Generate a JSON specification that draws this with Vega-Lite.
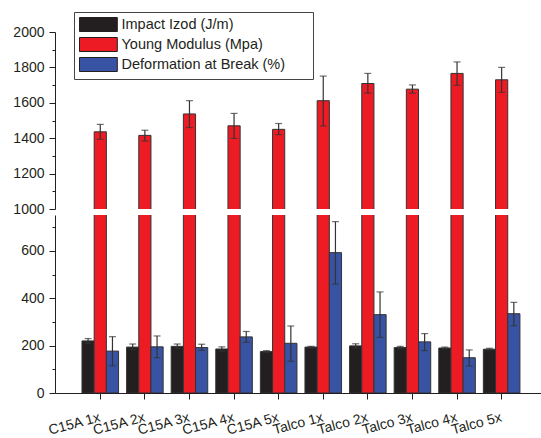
{
  "$schema": "https://vega.github.io/schema/vega-lite/v6.json",
  "padding": {"left": 12, "top": 11, "right": 0, "bottom": 0},
  "bounds": "flush",
  "spacing": 6,
  "config": {
    "font": "Liberation Sans",
    "view": {"stroke": null},
    "axis": {"domainColor": "#231f20", "tickColor": "#231f20", "labelColor": "#231f20", "labelFontSize": 14, "grid": false, "title": null, "labelOverlap": false, "labelBound": false}
  },
  "datasets": {
    "d": [
      {"sample": "C15A 1x", "prop": "Impact Izod (J/m)", "value": 220, "lo": 210, "hi": 230},
      {"sample": "C15A 1x", "prop": "Young Modulus (Mpa)", "value": 1436, "lo": 1394, "hi": 1478},
      {"sample": "C15A 1x", "prop": "Deformation at Break (%)", "value": 177, "lo": 115, "hi": 238},
      {"sample": "C15A 2x", "prop": "Impact Izod (J/m)", "value": 194, "lo": 182, "hi": 207},
      {"sample": "C15A 2x", "prop": "Young Modulus (Mpa)", "value": 1416, "lo": 1384, "hi": 1445},
      {"sample": "C15A 2x", "prop": "Deformation at Break (%)", "value": 195, "lo": 149, "hi": 241},
      {"sample": "C15A 3x", "prop": "Impact Izod (J/m)", "value": 197, "lo": 188, "hi": 207},
      {"sample": "C15A 3x", "prop": "Young Modulus (Mpa)", "value": 1537, "lo": 1460, "hi": 1612},
      {"sample": "C15A 3x", "prop": "Deformation at Break (%)", "value": 192, "lo": 180, "hi": 206},
      {"sample": "C15A 4x", "prop": "Impact Izod (J/m)", "value": 186, "lo": 177, "hi": 195},
      {"sample": "C15A 4x", "prop": "Young Modulus (Mpa)", "value": 1470, "lo": 1399, "hi": 1540},
      {"sample": "C15A 4x", "prop": "Deformation at Break (%)", "value": 237, "lo": 214, "hi": 260},
      {"sample": "C15A 5x", "prop": "Impact Izod (J/m)", "value": 175, "lo": 171, "hi": 179},
      {"sample": "C15A 5x", "prop": "Young Modulus (Mpa)", "value": 1450, "lo": 1420, "hi": 1483},
      {"sample": "C15A 5x", "prop": "Deformation at Break (%)", "value": 210, "lo": 134, "hi": 283},
      {"sample": "Talco 1x", "prop": "Impact Izod (J/m)", "value": 194, "lo": 191, "hi": 197},
      {"sample": "Talco 1x", "prop": "Young Modulus (Mpa)", "value": 1612, "lo": 1469, "hi": 1751},
      {"sample": "Talco 1x", "prop": "Deformation at Break (%)", "value": 593, "lo": 460, "hi": 724},
      {"sample": "Talco 2x", "prop": "Impact Izod (J/m)", "value": 199, "lo": 190, "hi": 208},
      {"sample": "Talco 2x", "prop": "Young Modulus (Mpa)", "value": 1709, "lo": 1654, "hi": 1766},
      {"sample": "Talco 2x", "prop": "Deformation at Break (%)", "value": 331, "lo": 235, "hi": 427},
      {"sample": "Talco 3x", "prop": "Impact Izod (J/m)", "value": 192, "lo": 187, "hi": 197},
      {"sample": "Talco 3x", "prop": "Young Modulus (Mpa)", "value": 1677, "lo": 1654, "hi": 1701},
      {"sample": "Talco 3x", "prop": "Deformation at Break (%)", "value": 216, "lo": 179, "hi": 251},
      {"sample": "Talco 4x", "prop": "Impact Izod (J/m)", "value": 190, "lo": 186, "hi": 194},
      {"sample": "Talco 4x", "prop": "Young Modulus (Mpa)", "value": 1766, "lo": 1699, "hi": 1831},
      {"sample": "Talco 4x", "prop": "Deformation at Break (%)", "value": 149, "lo": 114, "hi": 182},
      {"sample": "Talco 5x", "prop": "Impact Izod (J/m)", "value": 185, "lo": 181, "hi": 189},
      {"sample": "Talco 5x", "prop": "Young Modulus (Mpa)", "value": 1730, "lo": 1659, "hi": 1800},
      {"sample": "Talco 5x", "prop": "Deformation at Break (%)", "value": 335, "lo": 284, "hi": 383}
    ]
  },
  "data": {"name": "d"},
  "resolve": {"legend": {"color": "independent"}},
  "vconcat": [
    {
      "width": 487,
      "height": 177,
      "transform": [{"filter": "datum.prop === 'Young Modulus (Mpa)'"}],
      "encoding": {
        "x": {"field": "sample", "type": "nominal", "sort": null, "axis": null,
              "scale": {"domain": ["C15A 1x","C15A 2x","C15A 3x","C15A 4x","C15A 5x","Talco 1x","Talco 2x","Talco 3x","Talco 4x","Talco 5x"], "paddingInner": 0.18, "paddingOuter": 0.55, "align": 0.55}},
        "xOffset": {"field": "prop", "type": "nominal",
              "scale": {"domain": ["Impact Izod (J/m)", "Young Modulus (Mpa)", "Deformation at Break (%)"], "paddingInner": 0, "paddingOuter": 0}}
      },
      "layer": [
        {
          "mark": {"type": "bar", "clip": true, "stroke": "#333333", "strokeWidth": 1},
          "encoding": {
            "y": {"field": "value", "type": "quantitative",
                  "scale": {"domain": [1000, 2000], "nice": false, "zero": false},
                  "axis": {"values": [1000,1100,1200,1300,1400,1500,1600,1700,1800,1900,2000], "labelOverlap": false, "labelExpr": "datum.value % 200 === 0 ? datum.label : ''", "tickSize": {"condition": {"test": "datum.value % 200 === 0", "value": 6}, "value": 3}, "labelPadding": 5, "format": "d"}},
            "color": {"field": "prop", "type": "nominal",
                      "scale": {"domain": ["Impact Izod (J/m)", "Young Modulus (Mpa)", "Deformation at Break (%)"], "range": ["#231f20", "#ed1c24", "#3953a4"]},
                      "legend": {"orient": "none", "legendX": 19, "legendY": -20, "title": null, "symbolType": "M-1,-1H4.4V1H-1Z", "symbolSize": 196, "symbolStrokeColor": "#231f20", "symbolStrokeWidth": 1, "symbolOpacity": 1, "labelFontSize": 14.5, "labelColor": "#231f20", "labelLimit": 0, "labelExpr": "datum.label + '\u2800\u2800'", "strokeColor": "#444444", "fillColor": "white", "padding": 5, "rowPadding": 1, "labelOffset": 27.5}}
          }
        },
        {
          "mark": {"type": "rule", "color": "#333333", "strokeWidth": 1.2},
          "encoding": {"y": {"field": "lo", "type": "quantitative", "axis": {"values": [1000,1100,1200,1300,1400,1500,1600,1700,1800,1900,2000], "labelOverlap": false, "labelExpr": "datum.value % 200 === 0 ? datum.label : ''", "tickSize": {"condition": {"test": "datum.value % 200 === 0", "value": 6}, "value": 3}, "labelPadding": 5, "format": "d"}}, "y2": {"field": "hi"}}
        },
        {
          "mark": {"type": "tick", "color": "#333333", "thickness": 1.2, "size": 7},
          "encoding": {"y": {"field": "lo", "type": "quantitative", "axis": {"values": [1000,1100,1200,1300,1400,1500,1600,1700,1800,1900,2000], "labelOverlap": false, "labelExpr": "datum.value % 200 === 0 ? datum.label : ''", "tickSize": {"condition": {"test": "datum.value % 200 === 0", "value": 6}, "value": 3}, "labelPadding": 5, "format": "d"}}}
        },
        {
          "mark": {"type": "tick", "color": "#333333", "thickness": 1.2, "size": 7},
          "encoding": {"y": {"field": "hi", "type": "quantitative", "axis": {"values": [1000,1100,1200,1300,1400,1500,1600,1700,1800,1900,2000], "labelOverlap": false, "labelExpr": "datum.value % 200 === 0 ? datum.label : ''", "tickSize": {"condition": {"test": "datum.value % 200 === 0", "value": 6}, "value": 3}, "labelPadding": 5, "format": "d"}}}
        }
      ]
    },
    {
      "width": 487,
      "height": 178,
      "encoding": {
        "x": {"field": "sample", "type": "nominal", "sort": null,
              "scale": {"domain": ["C15A 1x","C15A 2x","C15A 3x","C15A 4x","C15A 5x","Talco 1x","Talco 2x","Talco 3x","Talco 4x","Talco 5x"], "paddingInner": 0.18, "paddingOuter": 0.55, "align": 0.55},
              "axis": {"labelAngle": -15, "labelAlign": "right", "labelBaseline": "top", "tickSize": 6, "labelPadding": 11, "labelOffset": -2, "labelFontSize": 14}},
        "xOffset": {"field": "prop", "type": "nominal",
              "scale": {"domain": ["Impact Izod (J/m)", "Young Modulus (Mpa)", "Deformation at Break (%)"], "paddingInner": 0, "paddingOuter": 0}}
      },
      "layer": [
        {
          "mark": {"type": "bar", "clip": true, "stroke": "#333333", "strokeWidth": 1},
          "encoding": {
            "y": {"field": "value", "type": "quantitative",
                  "scale": {"domain": [0, 752], "nice": false},
                  "axis": {"values": [0,100,200,300,400,500,600,700], "labelOverlap": false, "labelExpr": "datum.value % 200 === 0 ? datum.label : ''", "tickSize": {"condition": {"test": "datum.value % 200 === 0", "value": 6}, "value": 3}, "labelPadding": 5, "format": "d"}},
            "color": {"field": "prop", "type": "nominal",
                      "scale": {"domain": ["Impact Izod (J/m)", "Young Modulus (Mpa)", "Deformation at Break (%)"], "range": ["#231f20", "#ed1c24", "#3953a4"]},
                      "legend": null}
          }
        },
        {
          "transform": [{"filter": "datum.prop !== 'Young Modulus (Mpa)'"}],
          "mark": {"type": "rule", "color": "#333333", "strokeWidth": 1.2},
          "encoding": {"y": {"field": "lo", "type": "quantitative", "axis": {"values": [0,100,200,300,400,500,600,700], "labelOverlap": false, "labelExpr": "datum.value % 200 === 0 ? datum.label : ''", "tickSize": {"condition": {"test": "datum.value % 200 === 0", "value": 6}, "value": 3}, "labelPadding": 5, "format": "d"}}, "y2": {"field": "hi"}}
        },
        {
          "transform": [{"filter": "datum.prop !== 'Young Modulus (Mpa)'"}],
          "mark": {"type": "tick", "color": "#333333", "thickness": 1.2, "size": 7},
          "encoding": {"y": {"field": "lo", "type": "quantitative", "axis": {"values": [0,100,200,300,400,500,600,700], "labelOverlap": false, "labelExpr": "datum.value % 200 === 0 ? datum.label : ''", "tickSize": {"condition": {"test": "datum.value % 200 === 0", "value": 6}, "value": 3}, "labelPadding": 5, "format": "d"}}}
        },
        {
          "transform": [{"filter": "datum.prop !== 'Young Modulus (Mpa)'"}],
          "mark": {"type": "tick", "color": "#333333", "thickness": 1.2, "size": 7},
          "encoding": {"y": {"field": "hi", "type": "quantitative", "axis": {"values": [0,100,200,300,400,500,600,700], "labelOverlap": false, "labelExpr": "datum.value % 200 === 0 ? datum.label : ''", "tickSize": {"condition": {"test": "datum.value % 200 === 0", "value": 6}, "value": 3}, "labelPadding": 5, "format": "d"}}}
        }
      ]
    }
  ]
}
